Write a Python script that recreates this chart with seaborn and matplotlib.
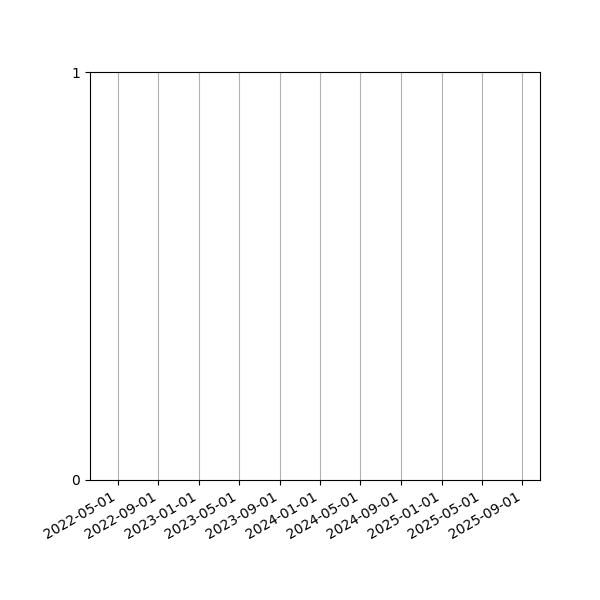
import pandas as pd
import matplotlib
matplotlib.use("Agg")
import matplotlib.pyplot as plt
import matplotlib.dates as mdates
import seaborn as sns

# the chart has no data points, only an empty date range
dates = pd.to_datetime([])
values = []
x_range = ["2022-02-07", "2025-10-24"]
y_ticks = [0, 1]


def main():
    df = pd.DataFrame({"date": dates, "value": pd.Series(values, dtype=float)})

    fig, ax = plt.subplots(figsize=(6, 6), dpi=100)
    sns.lineplot(data=df, x="date", y="value", ax=ax)

    ax.set_xlim(pd.to_datetime(x_range[0]), pd.to_datetime(x_range[1]))
    ax.set_ylim(y_ticks[0], y_ticks[-1])
    ax.set_yticks(y_ticks)
    ax.xaxis.set_major_locator(mdates.MonthLocator(bymonth=[1, 5, 9]))
    ax.xaxis.set_major_formatter(mdates.DateFormatter("%Y-%m-%d"))
    ax.grid(axis="x", color="#b0b0b0", linewidth=0.8)
    ax.set_xlabel("")
    ax.set_ylabel("")

    fig.autofmt_xdate()
    fig.subplots_adjust(left=0.15, right=0.9, top=0.88, bottom=0.2)
    fig.savefig("out.png")


if __name__ == "__main__":
    main()
